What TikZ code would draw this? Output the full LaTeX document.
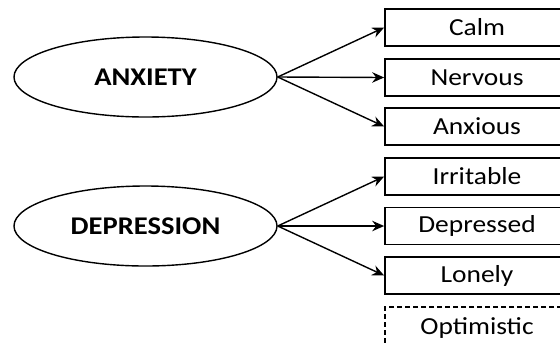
\documentclass[tikz,border=0pt]{standalone}
\usepackage{fontspec}
\setmainfont[FakeStretch=1.12]{Carlito}
\usetikzlibrary{shapes.geometric,arrows.meta}
\begin{document}
\begin{tikzpicture}[x=1bp,y=-1bp,
  emo/.style={draw=black,line width=1.7bp,minimum width=184bp,minimum height=37bp,inner sep=0pt,font=\fontsize{24.5bp}{28bp}\selectfont},
  dashemo/.style={emo,line width=1.4bp,minimum height=41bp,dash pattern=on 5bp off 3bp},
  construct/.style={ellipse,draw=black,line width=1.4bp,minimum width=263bp,minimum height=80bp,inner sep=0pt,font=\fontsize{25.5bp}{30bp}\selectfont\bfseries},
  arr/.style={line width=1.4bp,-{Stealth[length=12bp,width=10.5bp,inset=4bp]}}]
\useasboundingbox (0,0) rectangle (560,343);
\clip (0,0) rectangle (560,343);
\fill[white] (0,0) rectangle (560,343);
\node[construct] (anx) at (145.5,77) {ANXIETY};
\node[construct] (dep) at (145.5,226) {DEPRESSION};
\node[emo] (calm) at (477,27.5) {Calm};
\node[emo] (nerv) at (477,77.5) {Nervous};
\node[emo] (anxs) at (477,126.5) {Anxious};
\node[emo] (irr) at (477,176.5) {Irritable};
\node[emo] (depd) at (477,226) {Depressed};
\node[emo] (lone) at (477,275.5) {Lonely};
\node[dashemo] (opt) at (477,327.5) {Optimistic};
\draw[arr] (anx.east) -- (calm.west);
\draw[arr] (anx.east) -- (nerv.west);
\draw[arr] (anx.east) -- (anxs.west);
\draw[arr] (dep.east) -- (irr.west);
\draw[arr] (dep.east) -- (depd.west);
\draw[arr] (dep.east) -- (lone.west);
\end{tikzpicture}
\end{document}
